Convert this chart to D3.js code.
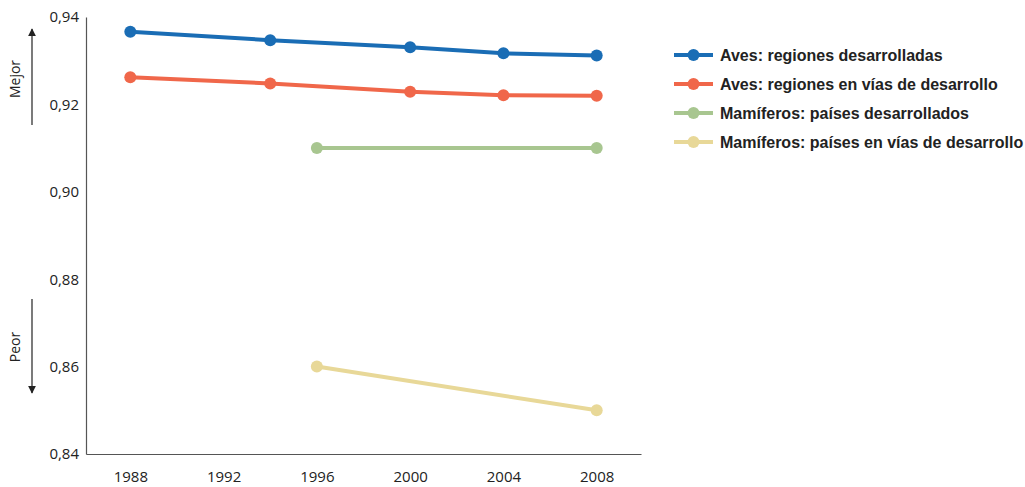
<!DOCTYPE html>
<html><head><meta charset="utf-8">
<script src="https://cdn.jsdelivr.net/npm/d3@7"></script>
<style>
body{margin:0;background:#fff;}
svg{display:block;}
text{font-family:"Open Sans","Liberation Sans",sans-serif;fill:#222;}
</style></head>
<body><svg id="c" width="1025" height="487"></svg>
<script>
const years = [1988, 1994, 2000, 2004, 2008];
const avesDesarrolladas = [0.9366, 0.9347, 0.9331, 0.9317, 0.9312];
const avesEnDesarrollo = [0.9262, 0.9248, 0.9229, 0.9221, 0.9220];
const mamYears = [1996, 2008];
const mamDesarrollados = [0.910, 0.910];
const mamEnDesarrollo = [0.860, 0.850];
const seriesNames = ["Aves: regiones desarrolladas","Aves: regiones en vías de desarrollo","Mamíferos: países desarrollados","Mamíferos: países en vías de desarrollo"];
const seriesColors = ["#1a6db5","#f0674a","#a8c690","#e8d898"];
const xTicks = [1988, 1992, 1996, 2000, 2004, 2008];
const yTicks = [0.84, 0.86, 0.88, 0.90, 0.92, 0.94];

const series = [
  {x: years, y: avesDesarrolladas},
  {x: years, y: avesEnDesarrollo},
  {x: mamYears, y: mamDesarrollados},
  {x: mamYears, y: mamEnDesarrollo}
];

const svg = d3.select("#c");
const x = d3.scaleLinear().domain([1986.1, 2009.9]).range([86, 641]);
const y = d3.scaleLinear().domain([0.84, 0.94]).range([454, 17]);

// axes
const yAxis = svg.append("g").attr("transform","translate(86,0)")
  .call(d3.axisLeft(y).tickValues(yTicks).tickSize(0).tickPadding(7).tickFormat(d => d3.format(".2f")(d).replace(".", ",")));
yAxis.select(".domain").attr("stroke","#555").attr("stroke-width",1.2);
yAxis.selectAll("text").style("font-size","15px").attr("fill","#222");

const xAxis = svg.append("g").attr("transform","translate(0,454)")
  .call(d3.axisBottom(x).tickValues(xTicks).tickSize(0).tickPadding(17).tickFormat(d3.format("d")));
xAxis.select(".domain").attr("stroke","#555").attr("stroke-width",1.2);
xAxis.selectAll("text").style("font-size","15px").attr("fill","#222");

// lines
const line = d3.line();
series.forEach((s, i) => {
  const pts = s.x.map((xv, j) => [x(xv), y(s.y[j])]);
  svg.append("path").attr("d", line(pts)).attr("fill","none")
    .attr("stroke", seriesColors[i]).attr("stroke-width", 4);
  svg.selectAll(null).data(pts).enter().append("circle")
    .attr("cx", d => d[0]).attr("cy", d => d[1]).attr("r", 6)
    .attr("fill", seriesColors[i]);
});

// Mejor / Peor arrows
const defs = svg.append("defs");
defs.append("marker").attr("id","ah").attr("viewBox","0 0 10 10").attr("refX",9).attr("refY",5)
  .attr("markerWidth",8).attr("markerHeight",8).attr("markerUnits","userSpaceOnUse").attr("orient","auto")
  .append("path").attr("d","M0,0 L10,5 L0,10 Z").attr("fill","#222");
svg.append("line").attr("x1",32).attr("x2",32).attr("y1",125).attr("y2",29)
  .attr("stroke","#222").attr("stroke-width",1.2).attr("marker-end","url(#ah)");
svg.append("line").attr("x1",32).attr("x2",32).attr("y1",299).attr("y2",393)
  .attr("stroke","#222").attr("stroke-width",1.2).attr("marker-end","url(#ah)");
svg.append("text").attr("transform","translate(20,79) rotate(-90)").attr("text-anchor","middle")
  .style("font-size","14px").text("Mejor");
svg.append("text").attr("transform","translate(20,347) rotate(-90)").attr("text-anchor","middle")
  .style("font-size","14px").text("Peor");

// legend
const lg = svg.append("g").attr("transform","translate(674,55)");
seriesNames.forEach((n, i) => {
  const g = lg.append("g").attr("transform", `translate(0,${i*29})`);
  g.append("line").attr("x1",0).attr("x2",39).attr("y1",0).attr("y2",0)
    .attr("stroke", seriesColors[i]).attr("stroke-width",4);
  g.append("circle").attr("cx",19.5).attr("cy",0).attr("r",6).attr("fill",seriesColors[i]);
  g.append("text").attr("x",46).attr("y",5.5).style("font-size","16px").style("font-weight","bold")
    .style("font-family","'Liberation Sans',Arial,sans-serif")
    .attr("fill","#231f20").text(n);
});
</script></body></html>
